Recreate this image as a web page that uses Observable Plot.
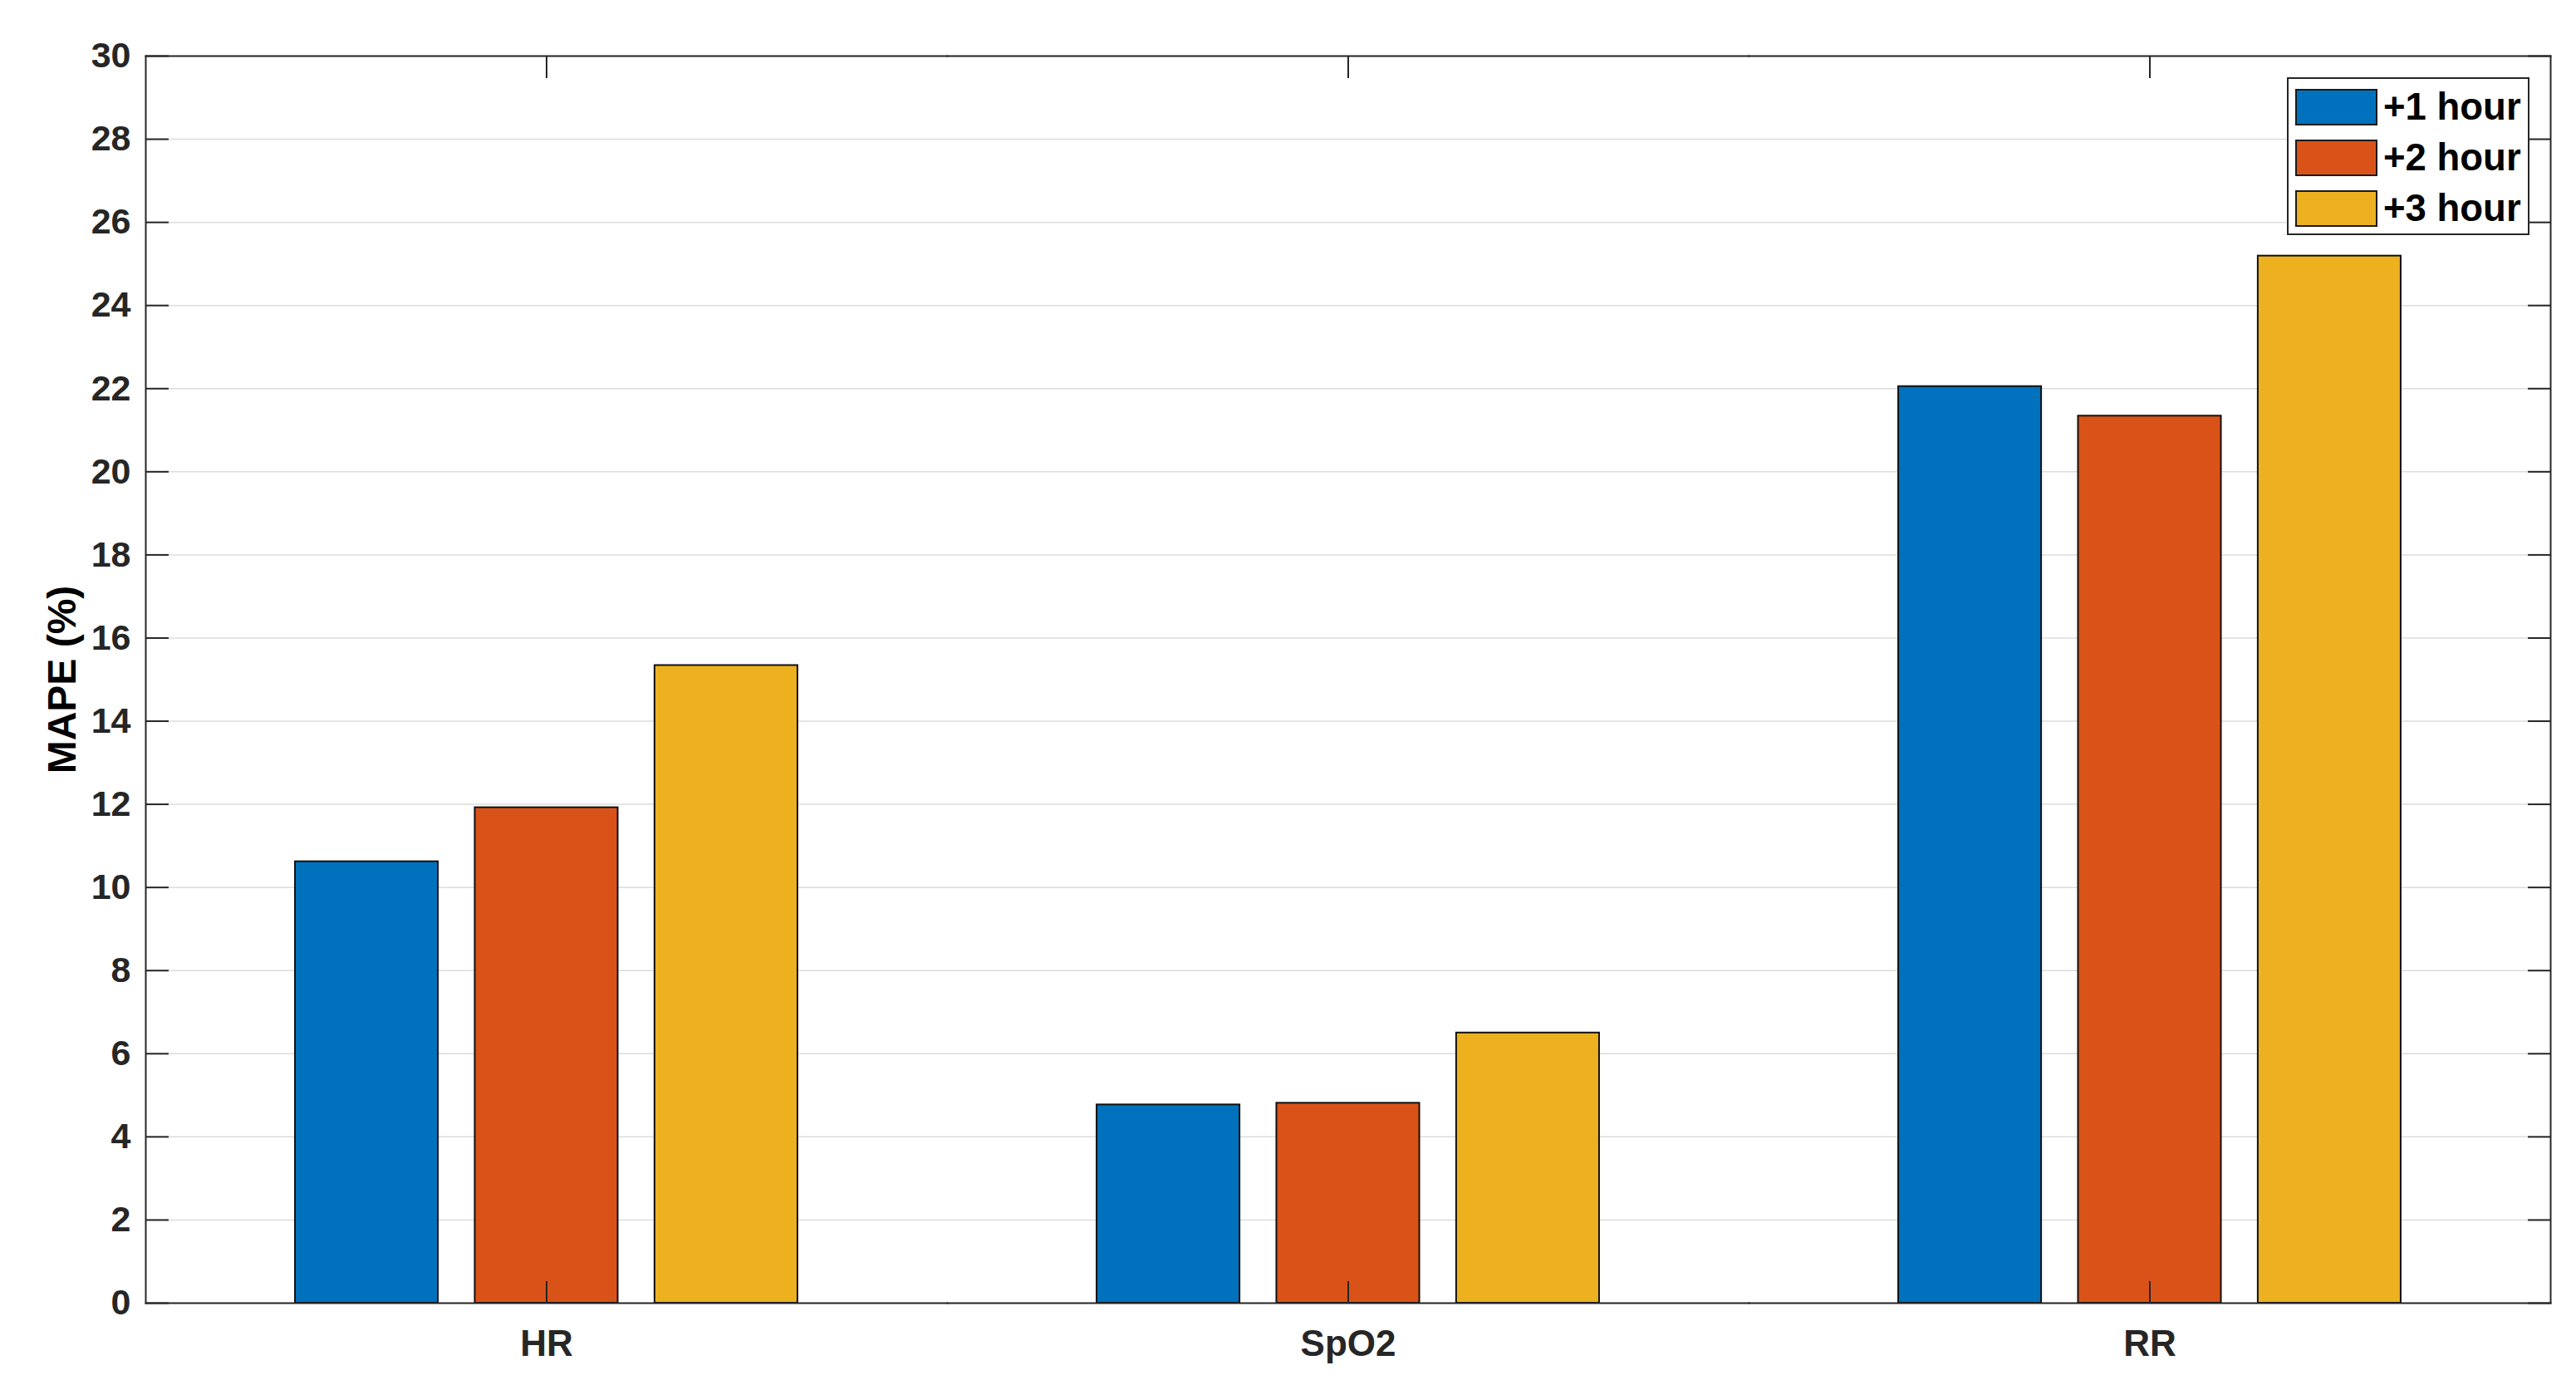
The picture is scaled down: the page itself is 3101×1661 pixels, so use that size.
<!DOCTYPE html>
<html>
<head>
<meta charset="utf-8">
<script src="https://cdn.jsdelivr.net/npm/d3@7"></script>
<script src="https://cdn.jsdelivr.net/npm/@observablehq/plot@0.6"></script>
<style>
html, body { margin: 0; padding: 0; background: #fff; }
#wrap { position: relative; width: 3101px; height: 1661px; }
#legend {
  position: absolute; left: 2753px; top: 93px; width: 292px; height: 190px;
  box-sizing: border-box; border: 2px solid #262626; background: #fff;
  padding-top: 3px;
  font-family: "Liberation Sans", Arial, sans-serif; font-weight: bold; font-size: 45.5px; color: #000;
}
.row { display: flex; align-items: center; height: 61px; margin-left: 8px; white-space: nowrap; }
.sw { width: 99px; height: 44px; border: 2px solid #1a1a1a; box-sizing: border-box; margin-right: 7px; }
</style>
</head>
<body>
<div id="wrap"><div id="chart"></div><div id="legend"></div></div>
<script>
// ---- data ----
const categories = ["HR", "SpO2", "RR"];
const series = ["+1 hour", "+2 hour", "+3 hour"];
const hour1 = [10.62, 4.77, 22.05];
const hour2 = [11.92, 4.81, 21.34];
const hour3 = [15.34, 6.50, 25.19];
const colors = ["#0072BD", "#D95319", "#EDB120"];
const yTicks = [0, 2, 4, 6, 8, 10, 12, 14, 16, 18, 20, 22, 24, 26, 28, 30];
const yLabel = "MAPE (%)";

const seriesValues = [hour1, hour2, hour3];
const data = categories.flatMap((c, i) =>
  series.map((s, j) => ({category: c, series: s, value: seriesValues[j][i]}))
);

const ink = "#262626";
const blank = () => "";
const chart = Plot.plot({
  width: 3101,
  height: 1661,
  marginLeft: 175,
  marginRight: 31,
  marginTop: 67,
  marginBottom: 93,
  style: {fontFamily: "'Liberation Sans', Arial, sans-serif", fontWeight: "bold", color: ink, background: "#fff", fontSize: "43px"},
  fx: {domain: categories, padding: 0, round: false, label: null},
  x: {domain: series, paddingInner: 0.205, paddingOuter: 0.832, round: false, axis: null},
  y: {domain: [0, 30], label: null},
  color: {domain: series, range: colors},
  marks: [
    Plot.gridY(yTicks, {stroke: "#dcdcdc", strokeOpacity: 1, strokeWidth: 1.5}),
    Plot.barY(data, {fx: "category", x: "series", y: "value", fill: "series", stroke: "#111", strokeWidth: 2}),
    Plot.frame({anchor: "top", stroke: ink, strokeWidth: 2}),
    Plot.frame({anchor: "bottom", stroke: ink, strokeWidth: 2}),
    Plot.frame({anchor: "left", facetAnchor: "left", stroke: ink, strokeWidth: 2}),
    Plot.frame({anchor: "right", facetAnchor: "right", stroke: ink, strokeWidth: 2}),
    // inward tick marks
    Plot.axisY({anchor: "right", frameAnchor: "left", facetAnchor: "left", ticks: yTicks, tickSize: 27, tickFormat: blank, label: null, strokeWidth: 2, stroke: ink}),
    Plot.axisY({anchor: "left", frameAnchor: "right", facetAnchor: "right", ticks: yTicks, tickSize: 27, tickFormat: blank, label: null, strokeWidth: 2, stroke: ink}),
    Plot.axisFx({anchor: "top", frameAnchor: "bottom", facetAnchor: "bottom", tickSize: 27, tickFormat: blank, label: null, strokeWidth: 2, stroke: ink}),
    Plot.axisFx({anchor: "bottom", frameAnchor: "top", facetAnchor: "top", tickSize: 27, tickFormat: blank, label: null, strokeWidth: 2, stroke: ink}),
    // tick labels and axis title
    Plot.axisY({anchor: "left", ticks: yTicks, tickSize: 0, tickPadding: 18, fontSize: 43, fontWeight: "bold", fill: ink, label: null}),
    Plot.axisY({anchor: "left", ticks: [], tickSize: 0, label: yLabel, labelAnchor: "center", labelArrow: "none", labelOffset: 119, fontSize: 48, fontWeight: "bold", fill: "#000"}),
    Plot.axisFx({anchor: "bottom", tickSize: 0, tickPadding: 32, fontSize: 44, fontWeight: "bold", fill: ink, label: null})
  ]
});
document.getElementById("chart").appendChild(chart);

const legend = document.getElementById("legend");
series.forEach((s, j) => {
  const row = document.createElement("div");
  row.className = "row";
  const sw = document.createElement("div");
  sw.className = "sw";
  sw.style.background = colors[j];
  const t = document.createElement("span");
  t.textContent = s;
  row.appendChild(sw);
  row.appendChild(t);
  legend.appendChild(row);
});
</script>
</body>
</html>
